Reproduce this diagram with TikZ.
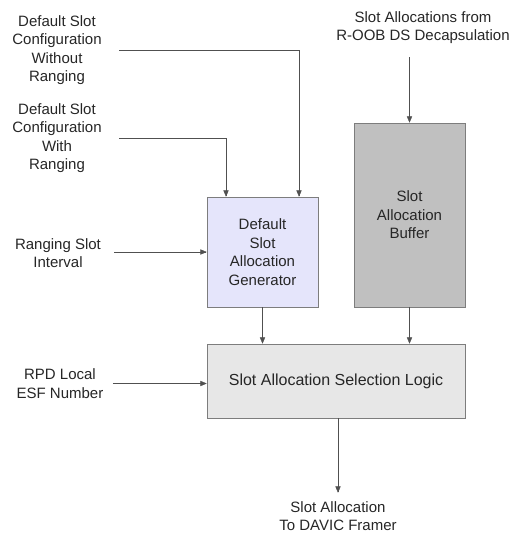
\documentclass[tikz,border=0pt]{standalone}
\usepackage{fontspec}
\setmainfont{Liberation Sans}
\usetikzlibrary{arrows,positioning}
\definecolor{genfill}{RGB}{229,229,251}
\definecolor{buffill}{RGB}{192,192,192}
\definecolor{logfill}{RGB}{231,231,231}
\definecolor{boxline}{RGB}{125,125,125}
\definecolor{wire}{RGB}{80,80,80}

\begin{document}
\begin{tikzpicture}[x=1pt,y=-1pt,>=triangle 45,thin,
                    txt/.style={align=center,text=black!85,
                      font=\fontsize{15}{18.5}\selectfont},
                    block/.style={txt,draw=boxline,semithick,inner sep=0pt},
                    wires/.style={->,draw=wire}]
   \useasboundingbox (0,0) rectangle (524,534);
   % blocks
   \node[block,fill=genfill,minimum width=111pt,minimum height=110pt] (gen) at (262.5,252)
      {Default\\Slot\\Allocation\\Generator};
   \node[block,fill=buffill,minimum width=111pt,minimum height=184pt] (buffer) at (409.5,215)
      {Slot\\Allocation\\Buffer};
   \node[block,fill=logfill,minimum width=258pt,minimum height=74pt,
         font=\fontsize{16}{19}\selectfont] (logic) at (336,381)
      {Slot Allocation Selection Logic};
   % inputs and output
   \node[txt] (noRange) at (57,50) {Default Slot\\Configuration\\Without\\Ranging};
   \node[txt] (withRange) at (57,138) {Default Slot\\Configuration\\With\\Ranging};
   \node[txt] (interval) at (58,253) {Ranging Slot\\Interval};
   \node[txt] (esfNum) at (60,383.5) {RPD Local\\ESF Number};
   \node[txt] (roob) at (423,27.5) {Slot Allocations from\\R-OOB DS Decapsulation};
   \node[txt] (davic) at (338,516) {Slot Allocation\\To DAVIC Framer};

   \draw[wires,shorten <=14pt] (noRange.east) -| ([xshift=36.5pt]gen.north);
   \draw[wires,shorten <=14pt] (withRange.east) -| ([xshift=-36.5pt]gen.north);
   \draw[wires,shorten <=10pt] (interval.east |- gen.west) -- (gen.west);
   \draw[wires,shorten <=6pt] (esfNum.east) -- (esfNum.east -| logic.west);
   \draw[wires,shorten <=10pt] (roob.south -| buffer.north) -- (buffer.north);
   \draw[wires] (gen.south) -- (gen.south |- logic.north);
   \draw[wires] (buffer.south) -- (logic.north -| buffer.south);
   \draw[wires,shorten >=5pt] (logic.south -| davic.north) -- (davic.north);

\end{tikzpicture}
\end{document}
